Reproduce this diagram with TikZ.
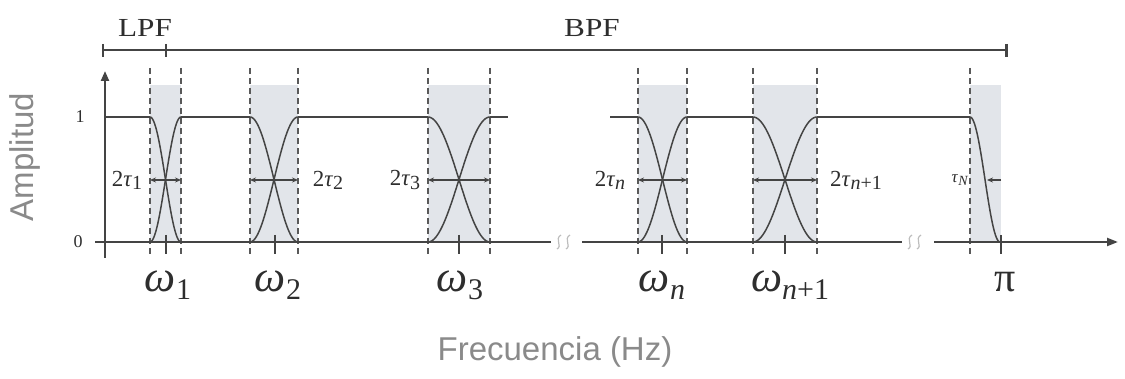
\documentclass[tikz,border=0pt]{standalone}
\usepackage{fontspec}
\setmainfont{Liberation Serif}
\newfontfamily\sansf{Liberation Sans}
\usetikzlibrary{arrows.meta}
\definecolor{ln}{HTML}{444444}
\definecolor{dshc}{HTML}{595959}
\definecolor{shd}{HTML}{E2E5EA}
\definecolor{lab}{HTML}{8a8a8a}
\definecolor{brk}{HTML}{BDBDBD}
\newcommand\wlab[1]{\fontsize{44}{44}\selectfont\textit{ω}\raisebox{-0.35ex}{\fontsize{30}{30}\selectfont #1}}
\newcommand\tlab[1]{\fontsize{23}{23}\selectfont 2\textit{τ}\raisebox{-0.3ex}{\fontsize{20}{20}\selectfont #1}}
\begin{document}
\begin{tikzpicture}[x=1pt,y=-1pt,
  axisline/.style={ln, line width=2.2pt},
  curveline/.style={ln, line width=1.5pt},
  guide/.style={dshc, line width=2pt, dash pattern=on 6pt off 4pt},
  ticksm/.style={ln, line width=1.3pt},
  width/.style={ln, line width=1.5pt, {Stealth[length=6pt,width=5pt]}-{Stealth[length=6pt,width=5pt]}},
  brkline/.style={brk, line width=1.2pt},
  lbl/.style={inner sep=0pt, text=black!82}]
\useasboundingbox (0,0) rectangle (1125,379);
% shaded bands
\foreach \a/\b in {150/181, 250/298, 428/490, 638/687, 753/817, 970/1001}
  \fill[shd] (\a,85) rectangle (\b,242);
% dashed guides
\foreach \a in {150,181,250,298,428,490,638,687,753,817,970}
  \draw[guide] (\a,68) -- (\a,256);
% crossover curves
\foreach \a/\b in {150/181, 250/298, 428/490, 638/687, 753/817} {
  \draw[curveline] plot[domain=0:1, samples=40] ({\a+(\b-\a)*\x}, {117+62.5*(1-cos(180*\x))});
  \draw[curveline] plot[domain=0:1, samples=40] ({\a+(\b-\a)*\x}, {242-62.5*(1-cos(180*\x))});
}
\draw[curveline] plot[domain=0:1, samples=40] ({970+30*\x}, {117+62.5*(1-cos(180*\x))});
% passband levels
\draw[curveline] (105,117) -- (150,117);
\draw[curveline] (181,117) -- (250,117);
\draw[curveline] (298,117) -- (428,117);
\draw[curveline] (490,117) -- (508,117);
\draw[curveline] (610,117) -- (638,117);
\draw[curveline] (687,117) -- (753,117);
\draw[curveline] (817,117) -- (970,117);
% axes
\draw[axisline, -{Triangle[length=10pt,width=8pt]}] (105,258) -- (105,71);
\draw[axisline] (95,242) -- (551,242);
\draw[axisline] (582,242) -- (902,242);
\draw[axisline, -{Triangle[length=11pt,width=8pt]}] (934,242) -- (1118,242);
% axis breaks
\foreach \c in {559,568,910,919}
  \draw[brkline] (\c-2,249) .. controls (\c+4,246) and (\c-5,239) .. (\c+2,235);
% ticks
\foreach \c in {166,275,459,662,785,1001}
  \draw[ticksm] (\c,235) -- (\c,254);
% top bar
\draw[ln, line width=2.6pt] (103,50) -- (1006,50);
\draw[ln, line width=1.6pt] (103,44) -- (103,57);
\draw[ln, line width=1.6pt] (166,44) -- (166,57);
\draw[ln, line width=3pt] (1006,44) -- (1006,57);
\node[lbl] (lpf) at (145,28) {\fontsize{26}{26}\selectfont\scalebox{1.2}[1]{LPF}};
\node[lbl] (bpf) at (592,28) {\fontsize{26}{26}\selectfont\scalebox{1.2}[1]{BPF}};
% y labels
\node[lbl] (one) at (80,117) {\fontsize{18}{18}\selectfont 1};
\node[lbl] (zero) at (78,242) {\fontsize{18}{18}\selectfont 0};
% width arrows
\coordinate (w1a) at (150,180); \coordinate (w1b) at (181,180);
\coordinate (w2a) at (250,180); \coordinate (w2b) at (298,180);
\coordinate (w3a) at (428,180); \coordinate (w3b) at (490,180);
\coordinate (wna) at (638,180); \coordinate (wnb) at (687,180);
\coordinate (wma) at (753,180); \coordinate (wmb) at (817,180);
\coordinate (wNa) at (1001,180); \coordinate (wNb) at (987,180);
\draw[width] (w1a) -- (w1b);
\draw[width] (w2a) -- (w2b);
\draw[width] (w3a) -- (w3b);
\draw[width] (wna) -- (wnb);
\draw[width] (wma) -- (wmb);
\draw[ln, line width=1.5pt, -{Stealth[length=6pt,width=5pt]}] (wNa) -- (wNb);
% tau labels
\node[lbl] (t1) at (127,180) {\tlab{1}};
\node[lbl] (t2) at (328,180) {\tlab{2}};
\node[lbl] (t3) at (405,180) {\tlab{3}};
\node[lbl] (tn) at (610,180) {\tlab{\textit{n}}};
\node[lbl] (tm) at (856,180) {\tlab{\textit{n}+1}};
\node[lbl] (tN) at (960,180) {\fontsize{17}{17}\selectfont\textit{τ}\raisebox{-0.3ex}{\fontsize{14}{14}\selectfont\textit{N}}};
% omega labels
\node[lbl, anchor=base] (o1) at (168,292) {\wlab{1}};
\node[lbl, anchor=base] (o2) at (278,292) {\wlab{2}};
\node[lbl, anchor=base] (o3) at (460,292) {\wlab{3}};
\node[lbl, anchor=base] (on) at (662,292) {\wlab{\textit{n}}};
\node[lbl, anchor=base] (om) at (790,292) {\wlab{\textit{n}+1}};
\node[lbl, anchor=base] (pi) at (1005,292) {\fontsize{42}{42}\selectfont π};
% axis titles
\node[text=lab, rotate=90, inner sep=0pt] (amp) at (25,157) {\sansf\fontsize{33}{33}\selectfont Amplitud};
\node[text=lab, inner sep=0pt] (freq) at (555,352) {\sansf\fontsize{33}{33}\selectfont Frecuencia (Hz)};
\end{tikzpicture}
\end{document}
